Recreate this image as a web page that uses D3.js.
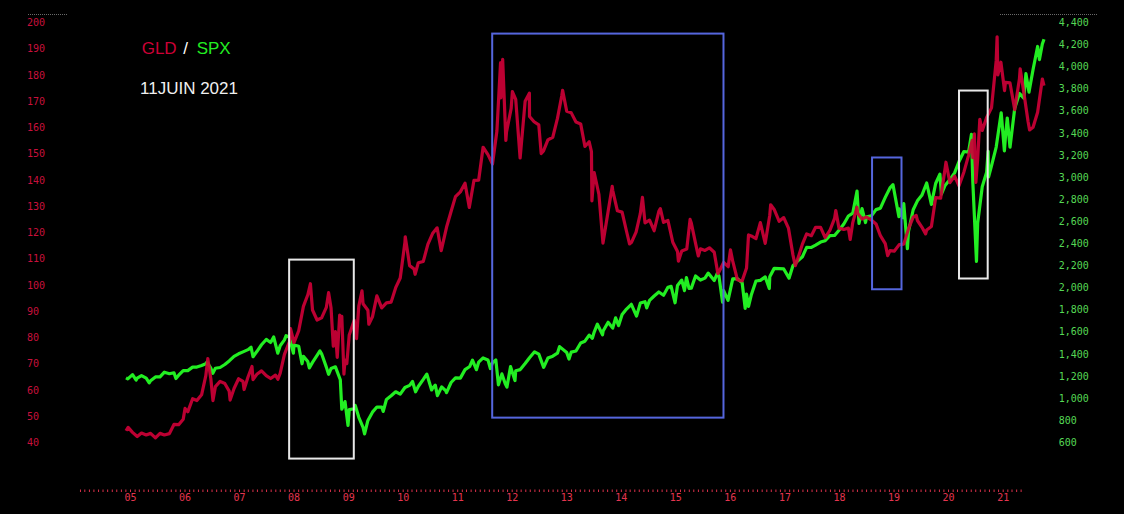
<!DOCTYPE html>
<html><head><meta charset="utf-8">
<script src="https://cdn.jsdelivr.net/npm/d3@7"></script>
<style>
html,body{margin:0;padding:0;background:#000;}
svg{display:block;}
</style></head>
<body>
<svg id="c" width="1124" height="514"></svg>
<script>
// ---------- DATA ----------
const gldSeries = [
["2004-11-18",44.4],["2004-12-02",45.7],["2004-12-31",43.8],["2005-01-31",42.2],["2005-02-28",43.5],["2005-03-31",42.8],
["2005-04-29",43.4],["2005-05-31",41.7],["2005-06-30",43.4],["2005-07-29",42.8],["2005-08-31",43.3],["2005-09-30",46.8],
["2005-10-31",46.7],["2005-11-30",48.8],["2005-12-12",52.9],["2005-12-30",51.6],["2006-01-31",56.6],["2006-02-28",55.9],
["2006-03-31",58.1],["2006-04-28",65.4],["2006-05-11",71.9],["2006-05-31",64.2],["2006-06-14",55.9],["2006-06-30",61.2],
["2006-07-31",63.2],["2006-08-31",62.4],["2006-09-29",59.5],["2006-10-05",56.1],["2006-10-31",60.5],["2006-11-30",64.2],
["2006-12-29",63.2],["2007-01-05",60.1],["2007-01-31",64.9],["2007-02-26",68.9],["2007-03-05",63.9],["2007-03-30",65.9],
["2007-04-30",67.2],["2007-05-31",65.4],["2007-06-29",64.3],["2007-07-31",65.6],["2007-08-16",64.0],["2007-08-31",66.3],
["2007-09-28",73.5],["2007-10-31",78.4],["2007-11-07",83.3],["2007-11-30",78.0],["2007-12-31",82.5],["2008-01-31",91.8],
["2008-02-29",96.2],["2008-03-17",100.4],["2008-03-31",90.4],["2008-04-30",86.6],["2008-05-30",87.4],["2008-06-30",91.4],
["2008-07-15",97.0],["2008-07-31",91.3],["2008-08-15",76.6],["2008-08-29",82.2],["2008-09-10",72.3],["2008-09-26",88.5],
["2008-09-30",84.9],["2008-10-10",88.0],["2008-10-24",66.0],["2008-10-31",71.3],["2008-11-12",70.0],["2008-11-28",80.9],
["2008-12-31",86.5],["2009-01-15",79.5],["2009-01-30",91.9],["2009-02-20",97.7],["2009-02-27",92.8],["2009-03-31",90.3],
["2009-04-06",85.0],["2009-04-30",87.8],["2009-05-29",95.8],["2009-06-30",91.2],["2009-07-31",93.1],["2009-08-31",93.4],
["2009-09-30",98.9],["2009-10-30",102.6],["2009-11-30",116.2],["2009-12-02",118.3],["2009-12-31",107.3],["2010-01-29",106.0],
["2010-02-05",104.0],["2010-02-26",108.4],["2010-03-31",108.9],["2010-04-30",115.4],["2010-05-31",119.5],["2010-06-30",121.7],
["2010-07-27",113.0],["2010-08-31",121.9],["2010-09-30",127.9],["2010-10-29",133.6],["2010-11-30",135.4],["2010-12-31",138.7],
["2011-01-28",129.5],["2011-02-28",139.8],["2011-03-31",139.9],["2011-04-29",152.4],["2011-05-31",149.6],["2011-06-30",146.0],
["2011-07-29",158.6],["2011-08-22",184.6],["2011-08-24",171.2],["2011-08-31",177.7],["2011-09-05",185.9],["2011-09-26",155.0],
["2011-09-30",158.1],["2011-10-31",167.2],["2011-11-08",173.6],["2011-11-30",170.6],["2011-12-29",148.3],["2012-01-31",169.9],
["2012-02-28",173.0],["2012-02-29",164.1],["2012-03-30",162.1],["2012-04-30",160.9],["2012-05-16",150.0],["2012-05-31",151.0],
["2012-06-29",155.2],["2012-07-31",156.2],["2012-08-31",163.4],["2012-09-28",171.9],["2012-10-04",174.1],["2012-10-31",166.1],
["2012-11-30",165.5],["2012-12-31",162.0],["2013-01-31",161.3],["2013-02-28",152.7],["2013-03-28",154.5],["2013-04-12",150.7],
["2013-04-15",132.0],["2013-04-30",142.7],["2013-05-31",134.5],["2013-06-27",115.9],["2013-07-31",128.0],["2013-08-27",137.5],
["2013-08-30",136.0],["2013-09-30",128.2],["2013-10-31",127.7],["2013-11-29",120.4],["2013-12-19",115.6],["2013-12-31",116.1],
["2014-01-31",120.1],["2014-02-28",127.1],["2014-03-14",133.3],["2014-03-31",123.6],["2014-04-30",124.6],["2014-05-30",120.6],
["2014-06-30",128.0],["2014-07-10",129.0],["2014-07-31",123.8],["2014-08-29",124.5],["2014-09-30",116.2],["2014-10-31",112.7],
["2014-11-06",109.0],["2014-11-28",112.9],["2014-12-31",113.6],["2015-01-22",124.9],["2015-01-30",123.5],["2015-02-27",115.8],
["2015-03-17",111.0],["2015-03-31",113.7],["2015-04-30",113.1],["2015-05-29",114.1],["2015-06-30",112.4],["2015-07-24",104.3],
["2015-07-31",104.9],["2015-08-31",108.5],["2015-09-30",106.9],["2015-10-15",113.3],["2015-10-30",109.0],["2015-11-30",101.9],
["2015-12-17",101.6],["2015-12-31",101.5],["2016-01-29",106.4],["2016-02-11",119.0],["2016-02-29",118.6],["2016-03-31",117.6],
["2016-04-29",123.7],["2016-05-31",115.8],["2016-06-30",126.5],["2016-07-06",130.5],["2016-07-29",128.7],["2016-08-31",124.2],
["2016-09-30",125.6],["2016-10-31",121.6],["2016-11-30",111.3],["2016-12-15",107.3],["2016-12-30",109.6],["2017-01-31",115.5],
["2017-02-28",119.4],["2017-03-31",118.7],["2017-04-28",121.9],["2017-05-31",121.9],["2017-06-30",118.0],["2017-07-31",120.7],
["2017-08-31",125.3],["2017-09-08",128.3],["2017-09-29",121.6],["2017-10-31",121.1],["2017-11-30",121.6],["2017-12-12",117.3],
["2017-12-29",123.7],["2018-01-25",129.5],["2018-01-31",127.2],["2018-02-28",125.1],["2018-03-29",125.8],["2018-04-30",124.7],
["2018-05-31",123.2],["2018-06-29",118.7],["2018-07-31",115.7],["2018-08-16",111.1],["2018-08-31",113.0],["2018-09-28",112.8],
["2018-10-31",115.3],["2018-11-30",115.5],["2018-12-31",121.3],["2019-01-31",125.8],["2019-02-20",126.4],["2019-02-28",124.5],
["2019-03-29",122.0],["2019-04-23",119.4],["2019-04-30",120.9],["2019-05-31",122.2],["2019-06-28",133.2],["2019-07-31",133.0],
["2019-08-30",144.6],["2019-09-04",146.7],["2019-09-30",138.9],["2019-10-31",141.4],["2019-11-29",137.7],["2019-12-31",142.9],
["2020-01-31",149.3],["2020-02-24",155.0],["2020-02-28",148.4],["2020-03-09",157.5],["2020-03-19",139.0],["2020-03-31",148.0],
["2020-04-14",163.0],["2020-04-30",158.8],["2020-05-29",163.7],["2020-06-30",167.4],["2020-07-31",185.4],["2020-08-06",194.5],
["2020-08-11",180.0],["2020-08-31",184.8],["2020-09-24",174.0],["2020-09-30",177.1],["2020-10-30",176.9],["2020-11-30",166.7],
["2020-12-31",178.4],["2021-01-05",182.3],["2021-01-29",173.3],["2021-02-26",162.2],["2021-03-08",159.0],["2021-03-31",160.0],
["2021-04-30",165.7],["2021-05-31",178.4],["2021-06-11",175.9]
];

const spxSeries = [
["2004-11-18",1183],["2004-11-30",1173.8],["2004-12-31",1211.9],["2005-01-24",1163],["2005-01-31",1181.3],["2005-02-28",1203.6],
["2005-03-31",1180.6],["2005-04-20",1137.5],["2005-04-29",1156.9],["2005-05-31",1191.5],["2005-06-30",1191.3],["2005-07-29",1234.2],
["2005-08-31",1220.3],["2005-09-30",1228.8],["2005-10-13",1177],["2005-10-31",1207.0],["2005-11-30",1249.5],["2005-12-30",1248.3],
["2006-01-31",1280.1],["2006-02-28",1280.7],["2006-03-31",1294.9],["2006-04-28",1310.6],["2006-05-05",1325.8],["2006-05-31",1270.1],
["2006-06-13",1223.7],["2006-06-30",1270.2],["2006-07-31",1276.7],["2006-08-31",1303.8],["2006-09-29",1335.9],["2006-10-31",1377.9],
["2006-11-30",1400.6],["2006-12-29",1418.3],["2007-01-31",1438.2],["2007-02-20",1459.7],["2007-03-05",1374.1],["2007-03-30",1420.9],
["2007-04-30",1482.4],["2007-05-31",1530.6],["2007-06-29",1503.4],["2007-07-19",1553.1],["2007-08-15",1406.7],["2007-08-31",1474.0],
["2007-09-28",1526.8],["2007-10-09",1565.2],["2007-10-31",1549.4],["2007-11-26",1407.2],["2007-11-30",1481.1],["2007-12-31",1468.4],
["2008-01-22",1310.5],["2008-01-31",1378.6],["2008-02-29",1330.6],["2008-03-10",1273.4],["2008-03-31",1322.7],["2008-04-30",1385.6],
["2008-05-19",1426.6],["2008-05-30",1400.4],["2008-06-30",1280.0],["2008-07-15",1214.9],["2008-07-31",1267.4],["2008-08-29",1282.8],
["2008-09-30",1166.4],["2008-10-10",899.2],["2008-10-31",968.8],["2008-11-20",752.4],["2008-11-28",896.2],["2008-12-31",903.3],
["2009-01-06",934.7],["2009-01-30",825.9],["2009-02-27",735.1],["2009-03-09",676.5],["2009-03-31",797.9],["2009-04-30",872.8],
["2009-05-29",919.1],["2009-06-30",919.3],["2009-07-10",879.1],["2009-07-31",987.5],["2009-08-31",1020.6],["2009-09-30",1057.1],
["2009-10-30",1036.2],["2009-11-30",1095.6],["2009-12-31",1115.1],["2010-01-19",1150.2],["2010-02-08",1056.7],["2010-02-26",1104.5],
["2010-03-31",1169.4],["2010-04-23",1217.3],["2010-05-25",1074.0],["2010-05-31",1089.4],["2010-06-18",1117.5],["2010-07-02",1022.6],
["2010-07-30",1101.6],["2010-08-27",1064.6],["2010-08-31",1049.3],["2010-09-30",1141.2],["2010-10-29",1183.3],["2010-11-30",1180.6],
["2010-12-31",1257.6],["2011-01-31",1286.1],["2011-02-18",1343.0],["2011-03-16",1256.9],["2011-03-31",1325.8],["2011-04-29",1363.6],
["2011-05-31",1345.2],["2011-06-16",1267.6],["2011-06-30",1320.6],["2011-07-22",1345.0],["2011-08-08",1119.5],["2011-08-31",1218.9],
["2011-09-22",1129.6],["2011-10-03",1099.2],["2011-10-27",1284.6],["2011-11-25",1158.7],["2011-11-30",1247.0],["2011-12-30",1257.6],
["2012-01-31",1312.4],["2012-02-29",1365.7],["2012-04-02",1419.0],["2012-04-30",1397.9],["2012-06-01",1278.0],["2012-06-29",1362.2],
["2012-07-31",1379.3],["2012-08-31",1406.6],["2012-09-14",1465.8],["2012-10-31",1412.2],["2012-11-15",1353.3],["2012-11-30",1416.2],
["2012-12-31",1426.2],["2013-01-31",1498.1],["2013-02-28",1514.7],["2013-03-28",1569.2],["2013-04-18",1541.6],["2013-04-30",1597.6],
["2013-05-21",1669.2],["2013-06-24",1573.1],["2013-06-28",1606.3],["2013-07-31",1685.7],["2013-08-30",1633.0],["2013-09-18",1725.5],
["2013-10-08",1655.5],["2013-10-31",1756.5],["2013-11-29",1805.8],["2013-12-31",1848.4],["2014-02-03",1741.9],["2014-02-28",1859.5],
["2014-03-31",1872.3],["2014-04-11",1815.7],["2014-04-30",1883.9],["2014-05-30",1923.6],["2014-06-30",1960.2],["2014-07-31",1930.7],
["2014-08-29",2003.4],["2014-09-19",2010.4],["2014-10-15",1862.5],["2014-10-31",2018.1],["2014-11-28",2067.6],["2014-12-16",1972.7],
["2014-12-29",2090.6],["2015-01-15",1992.7],["2015-01-30",1995.0],["2015-02-27",2104.5],["2015-03-31",2067.9],["2015-04-30",2085.5],
["2015-05-21",2130.8],["2015-06-30",2063.1],["2015-07-20",2128.3],["2015-07-31",2103.8],["2015-08-24",1867.6],["2015-08-31",1972.2],
["2015-09-29",1884.1],["2015-10-30",2079.4],["2015-11-30",2080.4],["2015-12-31",2043.9],["2016-01-20",1812.3],["2016-01-29",1940.2],
["2016-02-11",1829.1],["2016-02-29",1932.2],["2016-03-31",2059.7],["2016-04-29",2065.3],["2016-05-31",2096.9],["2016-06-27",1991.7],
["2016-06-30",2098.9],["2016-07-29",2173.6],["2016-08-31",2171.0],["2016-09-30",2168.3],["2016-11-04",2085.2],["2016-11-30",2198.8],
["2016-12-30",2238.8],["2017-01-31",2278.9],["2017-02-28",2363.6],["2017-03-31",2362.7],["2017-04-28",2384.2],["2017-05-31",2411.8],
["2017-06-30",2423.4],["2017-07-31",2470.3],["2017-08-31",2471.7],["2017-09-29",2519.4],["2017-10-31",2575.3],["2017-11-30",2647.6],
["2017-12-29",2673.6],["2018-01-26",2872.9],["2018-02-08",2581.0],["2018-02-28",2713.8],["2018-03-23",2588.3],["2018-03-30",2640.9],
["2018-04-30",2648.1],["2018-05-31",2705.3],["2018-06-29",2718.4],["2018-07-31",2816.3],["2018-08-31",2901.5],["2018-09-20",2930.8],
["2018-10-29",2641.3],["2018-10-31",2711.7],["2018-11-23",2632.6],["2018-11-30",2760.2],["2018-12-24",2351.1],["2018-12-31",2506.9],
["2019-01-31",2704.1],["2019-02-28",2784.5],["2019-03-29",2834.4],["2019-04-30",2945.8],["2019-05-31",2752.1],["2019-06-28",2941.8],
["2019-07-26",3025.9],["2019-08-05",2844.7],["2019-08-30",2926.5],["2019-09-30",2976.7],["2019-10-31",3037.6],["2019-11-29",3141.0],
["2019-12-31",3230.8],["2020-01-31",3225.5],["2020-02-19",3386.2],["2020-02-28",2954.2],["2020-03-23",2237.4],["2020-03-31",2584.6],
["2020-04-30",2912.4],["2020-05-29",3044.3],["2020-06-08",3232.4],["2020-06-11",3002.1],["2020-06-30",3100.3],["2020-07-31",3271.1],
["2020-09-02",3580.8],["2020-09-23",3236.9],["2020-09-30",3363.0],["2020-10-12",3534.2],["2020-10-30",3270.0],["2020-11-30",3621.6],
["2020-12-31",3756.1],["2021-01-29",3714.2],["2021-02-12",3934.8],["2021-03-04",3768.5],["2021-03-31",3972.9],["2021-04-30",4181.2],
["2021-05-12",4063.0],["2021-05-31",4204.1],["2021-06-11",4247.4]
];

const leftTicks = [40,50,60,70,80,90,100,110,120,130,140,150,160,170,180,190,200];
const rightTicks = [600,800,1000,1200,1400,1600,1800,2000,2200,2400,2600,2800,3000,3200,3400,3600,3800,4000,4200,4400];
const yearLabels = ["2005","2006","2007","2008","2009","2010","2011","2012","2013","2014","2015","2016","2017","2018","2019","2020","2021"];
const titleParts = ["GLD","/","SPX"];
const dateLabel = "11JUIN 2021";
// highlighted periods: [start, end, GLD top, GLD bottom, kind]
const boxes = [
["2007-10-29","2008-12-28",109.6,33.8,"white"],
["2011-06-28","2015-08-30",195.7,49.4,"blue"],
["2018-05-05","2018-11-15",148.5,98.3,"blue"],
["2019-11-29","2020-06-05",174.0,102.4,"white"]
];

// ---------- DRAW ----------
const parse = d3.timeParse("%Y-%m-%d");
const gld = gldSeries.map(d => ({date: parse(d[0]), v: d[1]}));
const spx = spxSeries.map(d => ({date: parse(d[0]), v: d[1]}));

const svg = d3.select("#c");
svg.append("rect").attr("width",1124).attr("height",514).attr("fill","#000");

const x = d3.scaleTime().domain([parse("2004-11-18"), parse("2021-06-11")]).range([126, 1044]);
const xLab = d3.scaleTime().domain([new Date(2005,0,1), new Date(2021,0,1)]).range([130, 1002.7]);
const yL = d3.scaleLinear().domain([40,200]).range([442.3,22.3]);
const yR = d3.scaleLinear().domain([600,4400]).range([442.3,22.3]);

const RED = "#cc0036", GREEN = "#22ee22";
const mono = "'DejaVu Sans Mono','Liberation Mono',monospace";

// top dotted strokes
[[28,68],[1000,1097]].forEach(s => {
  svg.append("line").attr("x1",s[0]).attr("x2",s[1]).attr("y1",14.5).attr("y2",14.5)
    .attr("stroke","#6a6a6a").attr("stroke-width",1).attr("stroke-dasharray","1,1");
});

// left axis
const gl = svg.append("g").attr("transform","translate(27,0)")
  .call(d3.axisRight(yL).tickValues(leftTicks).tickSize(0).tickPadding(0).tickFormat(d3.format("d")));
gl.select(".domain").remove();
gl.selectAll("text").attr("fill","#c8103c").style("font-family",mono).style("font-size","10px");

// right axis
const gr = svg.append("g").attr("transform","translate(1058.7,0)")
  .call(d3.axisRight(yR).tickValues(rightTicks).tickSize(0).tickPadding(0).tickFormat(d3.format(",")));
gr.select(".domain").remove();
gr.selectAll("text").attr("fill","#55d855").style("font-family",mono).style("font-size","10px");

// bottom axis: monthly ticks
const months = d3.timeMonth.range(new Date(2004,1,1), new Date(2021,4,2));
const gb = svg.append("g").attr("transform","translate(0,489.5)")
  .call(d3.axisBottom(xLab).tickValues(months).tickSize(2.5).tickFormat(""));
gb.select(".domain").remove();
gb.selectAll("line").attr("stroke","#d8304a").attr("stroke-width",1);

const yearDates = yearLabels.map(y => new Date(+y,0,1));
const gy = svg.append("g").attr("transform","translate(0,493.6)")
  .call(d3.axisBottom(xLab).tickValues(yearDates).tickSize(0).tickPadding(0).tickFormat(d3.timeFormat("%y")));
gy.select(".domain").remove();
gy.selectAll("text").attr("fill","#e5354f").style("font-family",mono).style("font-size","10px");

// lines
const lineL = d3.line().x(d => x(d.date)).y(d => yL(d.v));
const lineR = d3.line().x(d => x(d.date)).y(d => yR(d.v));
svg.append("path").datum(spx).attr("d",lineR).attr("fill","none").attr("stroke",GREEN)
  .attr("stroke-width",3.2).attr("stroke-linejoin","round");
svg.append("path").datum(gld).attr("d",lineL).attr("fill","none").attr("stroke",RED)
  .attr("stroke-width",3.2).attr("stroke-linejoin","round").attr("opacity",0.92);

// boxes
const boxColor = {white:"#e8e8e8", blue:"#5566dd"};
svg.append("g").selectAll("rect").data(boxes).join("rect")
  .attr("x", d => x(parse(d[0])))
  .attr("y", d => yL(d[2]))
  .attr("width", d => x(parse(d[1])) - x(parse(d[0])))
  .attr("height", d => yL(d[3]) - yL(d[2]))
  .attr("fill","none").attr("stroke", d => boxColor[d[4]]).attr("stroke-width",2);

// title
const sans = "'Liberation Sans',Arial,sans-serif";
const tcol = [RED, "#ffffff", GREEN];
const tx = [141.7, 183.3, 196.7];
titleParts.forEach((t,i) => {
  svg.append("text").attr("x",tx[i]).attr("y",54.3).text(t)
    .attr("fill",tcol[i]).style("font-family",sans).style("font-size","17px");
});
svg.append("text").attr("x",140).attr("y",94).text(dateLabel)
  .attr("fill","#f0f0f0").style("font-family",sans).style("font-size","17px");
</script>
</body></html>
